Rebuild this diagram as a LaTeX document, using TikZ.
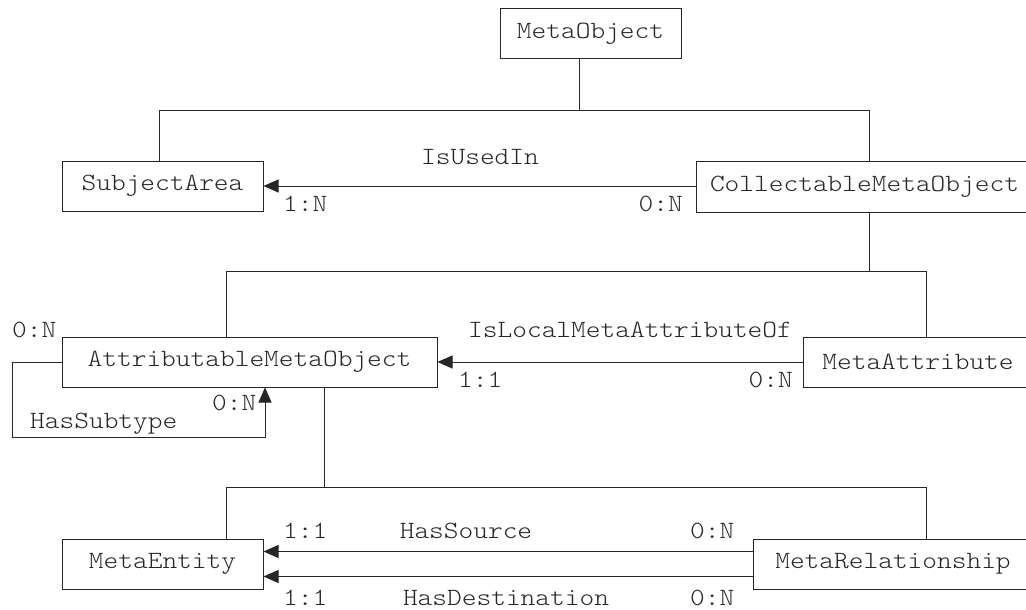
\documentclass[tikz,border=0pt]{standalone}
\usepackage{fontspec}
\newfontfamily\cour[Extension=.otf,FakeStretch=1.13]{lmmonolt10-regular}
\usetikzlibrary{arrows.meta}
\begin{document}
\begin{tikzpicture}[x=1pt,y=-1pt,
  txt/.style={text=black!85,font=\cour\fontsize{24.8}{28}\selectfont},
  box/.style={txt,draw=black!85,line width=1pt,inner sep=0pt,minimum height=50pt},
  lbl/.style={txt,inner sep=0pt},
  conn/.style={draw=black!85,line width=1pt},
  arr/.style={conn,-{Triangle[length=15pt,width=13pt]}}]
\useasboundingbox (0,0) rectangle (1026,610);
\clip (0,0) rectangle (1026,610);

% boxes
\node[box,minimum width=181pt] (MO) at (590.5,34) {MetaObject};
\node[box,minimum width=201pt] (SA) at (162.5,186) {SubjectArea};
\node[box,minimum width=337pt,minimum height=51pt] (CMO) at (864.5,186.5) {CollectableMetaObject};
\node[box,minimum width=375pt] (AMO) at (249.5,362) {AttributableMetaObject};
\node[box,minimum width=230pt] (MA) at (918,362) {MetaAttribute};
\node[box,minimum width=201pt] (ME) at (162.5,564) {MetaEntity};
\node[box,minimum width=280pt] (MR) at (893,564) {MetaRelationship};

% bus coordinates
\coordinate (b1m) at (579,110);
\coordinate (b1l) at (159,110);
\coordinate (b1r) at (869,110);
\coordinate (b2l) at (226,271);
\coordinate (b2r) at (926,271);
\coordinate (b3m) at (324,487);
\coordinate (b3l) at (226,487);
\coordinate (b3r) at (926,487);

% generalisation trees
\draw[conn] (MO.south -| b1m) -- (b1m);
\draw[conn] (SA.north -| b1l) |- (b1r) -- (CMO.north -| b1r);
\draw[conn] (CMO.south -| b1r) -- (b1r |- b2l);
\draw[conn] (AMO.north -| b2l) |- (b2r) -- (MA.north -| b2r);
\draw[conn] (AMO.south -| b3m) -- (b3m);
\draw[conn] (ME.north -| b3l) |- (b3r) -- (MR.north -| b3r);

% associations
\draw[arr] (CMO.west |- SA.east) -- (SA.east);
\draw[arr] (MA.west) -- (MA.west -| AMO.east);
\draw[arr] ([yshift=12.5pt]MR.west) -- ([yshift=12.5pt]MR.west -| ME.east);
\draw[arr] ([yshift=-12.5pt]MR.west) -- ([yshift=-12.5pt]MR.west -| ME.east);

% self loop
\coordinate (lp) at (12,437);
\coordinate (lpx) at (265,437);
\draw[arr] (AMO.west) -| (lp) -- (lpx) -- (AMO.south -| lpx);

% labels
\node[lbl,anchor=base] (l1) at (480,164) {IsUsedIn};
\node[lbl,anchor=base west] (l2) at (283,211) {1:N};
\node[lbl,anchor=base east] (l3) at (683,211) {0:N};
\node[lbl,anchor=base west] (l4) at (12,337) {0:N};
\node[lbl,anchor=base west] (l5) at (468,337) {IsLocalMetaAttributeOf};
\node[lbl,anchor=base west] (l6) at (458,387) {1:1};
\node[lbl,anchor=base east] (l7) at (793,387) {0:N};
\node[lbl,anchor=base west] (l8) at (212,410) {0:N};
\node[lbl,anchor=base west] (l9) at (30,428) {HasSubtype};
\node[lbl,anchor=base west] (l10) at (283,538) {1:1};
\node[lbl,anchor=base] (l11) at (466,538) {HasSource};
\node[lbl,anchor=base west] (l12) at (690,538) {0:N};
\node[lbl,anchor=base west] (l13) at (283,605) {1:1};
\node[lbl,anchor=base] (l14) at (506,605) {HasDestination};
\node[lbl,anchor=base west] (l15) at (690,605) {0:N};
\end{tikzpicture}
\end{document}
